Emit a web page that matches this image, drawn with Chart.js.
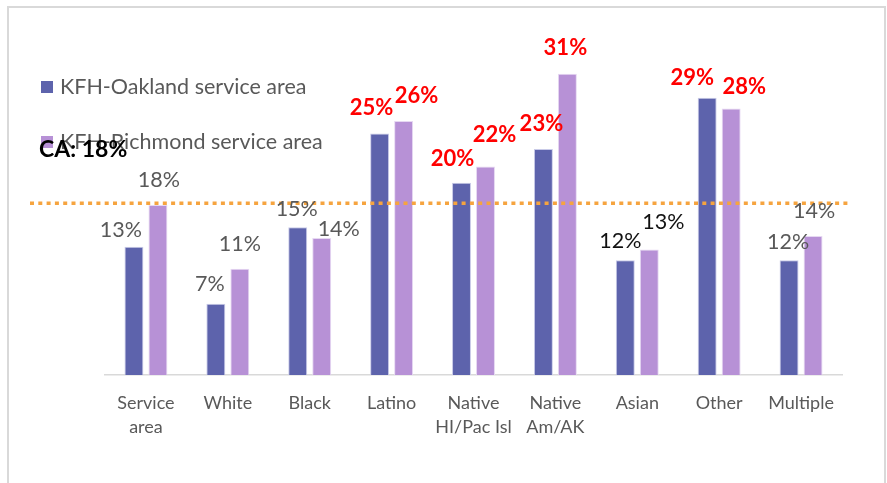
<!DOCTYPE html>
<html>
<head>
<meta charset="utf-8">
<script src="https://cdn.jsdelivr.net/npm/chart.js@4"></script>
<style>
  html, body { margin: 0; padding: 0; background: #fff; }
  #wrap { position: relative; width: 887px; height: 483px; overflow: hidden; }
  #frame { position: absolute; left: 7px; top: 6px; width: 875px; height: 600px;
           border: 2px solid #d9d9d9; pointer-events: none; }
  canvas { position: absolute; left: 0; top: 0; }
</style>
</head>
<body>
<div id="wrap">
  <canvas id="raceChart" width="887" height="483"></canvas>
  <div id="frame"></div>
</div>
<script>
// values (bar heights), labels show them rounded
const categories = [["Service", "area"], "White", "Black", "Latino", ["Native", "HI/Pac Isl"], ["Native", "Am/AK"], "Asian", "Other", "Multiple"];
const seriesNames = ["KFH-Oakland service area", "KFH-Richmond service area"];
const oaklandValues = [13.3, 7.4, 15.3, 25.0, 19.9, 23.4, 11.9, 28.7, 11.9];
const richmondValues = [17.6, 11.0, 14.2, 26.3, 21.6, 31.2, 13.0, 27.6, 14.4];
const caValue = 17.8;
const caLabel = "CA: 18%";

// label look per category and hand nudges (like the moved labels in the original)
const labelStyle = ["gray", "gray", "gray", "red", "red", "red", "black", "red", "gray"];
const oaklandNudge = [[-13, -17], [-6, -20], [-1, -18], [-8, -26], [-9, -24], [-2, -25], [-5, -19], [-15, -20], [-1, -18]];
const richmondNudge = [[1, -25], [0, -25], [17, -9], [13, -25], [9, -32], [-2, -26], [14, -27], [13, -22], [1, -25]];

var oaklandColor = "#5d63ac";
var richmondColor = "#b791d6";

var labelPlugin = {
  id: "barLabels",
  afterDatasetsDraw: function(chart) {
    var ctx = chart.ctx;
    var yScale = chart.scales.y;
    var area = chart.chartArea;

    // CA reference line
    var yCa = yScale.getPixelForValue(caValue);
    ctx.save();
    ctx.strokeStyle = "#f6a43f";
    ctx.lineWidth = 3.5;
    ctx.setLineDash([4, 4.3]);
    ctx.beginPath();
    ctx.moveTo(area.left - 75, yCa);
    ctx.lineTo(area.right + 8, yCa);
    ctx.stroke();
    ctx.restore();

    // value labels
    var nudges = [oaklandNudge, richmondNudge];
    ctx.save();
    ctx.textAlign = "center";
    ctx.textBaseline = "middle";
    chart.data.datasets.forEach(function(ds, di) {
      var meta = chart.getDatasetMeta(di);
      meta.data.forEach(function(bar, i) {
        var st = labelStyle[i];
        if (st === "red") {
          ctx.fillStyle = "#ff0000";
          ctx.font = "bold 22px Lato";
        } else {
          ctx.fillStyle = st === "black" ? "#111111" : "#595959";
          ctx.font = "21.5px Lato";
        }
        var n = nudges[di][i];
        ctx.fillText(Math.round(ds.data[i]) + "%", bar.x + n[0], bar.y + n[1]);
      });
    });
    ctx.restore();

    // legend inside the plot, top left
    ctx.save();
    ctx.textAlign = "left";
    ctx.textBaseline = "middle";
    ctx.font = "21.5px Lato";
    var rows = [87, 142];
    chart.data.datasets.forEach(function(ds, di) {
      ctx.fillStyle = ds.backgroundColor;
      ctx.fillRect(41, rows[di] - 6, 12, 12);
      ctx.fillStyle = "#595959";
      ctx.fillText(ds.label, 60, rows[di]);
    });
    ctx.fillStyle = "#000000";
    ctx.font = "bold 23px Lato";
    ctx.fillText(caLabel, 39, 150);
    ctx.restore();
  }
};

const raceData = {
  labels: categories,
  datasets: [
    {
      label: seriesNames[0],
      data: oaklandValues,
      backgroundColor: oaklandColor,
      borderColor: "#c9cbe8",
      borderWidth: 1,
    },
    {
      label: seriesNames[1],
      data: richmondValues,
      backgroundColor: richmondColor,
      borderColor: "#e6d8f2",
      borderWidth: 1,
    },
  ],
};

const raceConfig = {
  type: "bar",
  data: raceData,
  options: {
    responsive: false,
    animation: false,
    layout: { padding: { left: 105, right: 45, top: 37, bottom: 28 } },
    datasets: { bar: { categoryPercentage: 0.586, barPercentage: 0.79 } },
    scales: {
      x: {
        grid: { display: false, drawTicks: false },
        border: { display: true, color: "#d9d9d9", width: 1.5 },
        ticks: {
          color: "#595959",
          padding: 16,
          maxRotation: 0,
          autoSkip: false,
          font: { family: "Lato", size: 18, lineHeight: 1.33 },
        },
      },
      y: { display: false, min: 0, max: 35 },
    },
    plugins: {
      legend: { display: false },
      tooltip: { enabled: false },
    },
  },
  plugins: [labelPlugin],
};

var raceChart = new Chart(document.getElementById("raceChart"), raceConfig);
</script>
</body>
</html>
